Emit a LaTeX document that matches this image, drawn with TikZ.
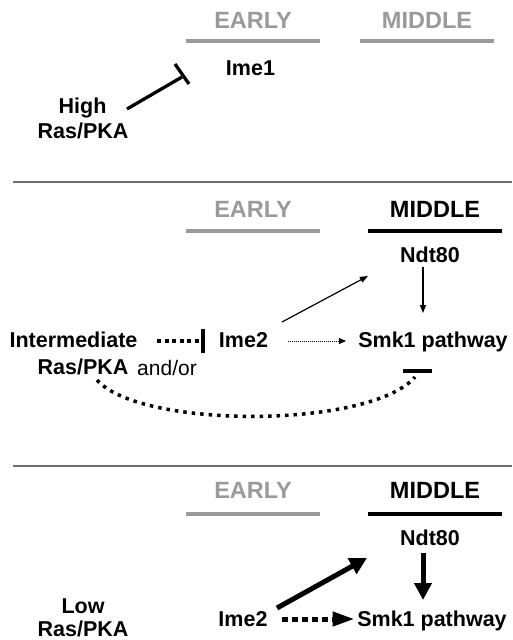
\documentclass[tikz,border=0pt]{standalone}
\usepackage{fontspec}
\setmainfont{Liberation Sans}
\usetikzlibrary{arrows.meta}
\definecolor{stagegrey}{HTML}{9A9A9A}
\definecolor{rulegrey}{HTML}{6E6E6E}
\tikzset{
  body/.style={font=\fontsize{21.5}{24}\selectfont\bfseries, inner sep=0pt, anchor=base},
  plain/.style={font=\fontsize{21}{24}\selectfont, inner sep=0pt, anchor=base},
  header/.style={font=\fontsize{23.5}{26}\selectfont\bfseries, inner sep=0pt, anchor=base},
  greyhead/.style={header, text=stagegrey},
  stagebar/.style={line width=3.5pt, stagegrey},
  activebar/.style={line width=3.5pt, black},
  separator/.style={line width=1.3pt, rulegrey},
  thinarrow/.style={line width=1.2pt, -{Triangle[length=8pt,width=6pt]}},
  thickarrow/.style={line width=5pt, -{Triangle[length=17pt,width=17pt]}},
  blockbar/.style={line width=4pt},
  dotline/.style={line width=4pt, dash pattern=on 4pt off 3.5pt},
  curvedots/.style={line width=3.5pt, dash pattern=on 3.5pt off 5pt},
  faintdots/.style={line width=1pt, dash pattern=on 1pt off 1pt},
  squaredash/.style={line width=5pt, dash pattern=on 6pt off 4pt},
}
\begin{document}
\begin{tikzpicture}[x=1pt, y=-1pt]
\useasboundingbox (0,0) rectangle (512,640);

% ---------- High Ras/PKA ----------
\node[greyhead] (e1) at (253,28) {EARLY};
\node[greyhead] (m1) at (427,28) {MIDDLE};
\draw[stagebar] (186,41) -- (320,41);
\draw[stagebar] (360,41) -- (494,41);
\node[body] (ime1) at (250.5,75) {Ime1};
\node[body] (high) at (82.5,113) {High};
\node[body] (rp1) at (83,138) {Ras/PKA};
\coordinate (t1s) at (127,109);
\coordinate (t1e) at (182,77);
\coordinate (t1a) at (175,64);
\coordinate (t1b) at (189,84);
\draw[line width=3.3pt] (t1s) -- (t1e);
\draw[line width=3.3pt] (t1a) -- (t1b);

\draw[separator] (13,182) -- (512,182);

% ---------- Intermediate Ras/PKA ----------
\node[greyhead] (e2) at (253,217) {EARLY};
\node[header] (m2) at (435,217) {MIDDLE};
\draw[stagebar] (186,231) -- (320,231);
\draw[activebar] (368,231) -- (502,231);
\node[body] (ndt2) at (430,262) {Ndt80};
\node[body] (inter) at (73.5,347) {Intermediate};
\node[body] (rp2) at (83,374) {Ras/PKA};
\node[plain] (andor) at (167,375) {and/or};
\node[body] (ime2b) at (243.5,347) {Ime2};
\node[body] (smk2) at (433,347) {Smk1 pathway};

\coordinate (d2s) at (157,341);
\coordinate (d2e) at (199,341);
\draw[dotline] (d2s) -- (d2e);
\draw[blockbar] (203,329) -- (203,353);

\coordinate (a2s) at (282,322);
\coordinate (a2e) at (368,276);
\draw[thinarrow] (a2s) -- (a2e);
\coordinate (n2s) at (423,267);
\coordinate (n2e) at (423,313);
\draw[thinarrow] (n2s) -- (n2e);
\coordinate (f2s) at (288,341);
\coordinate (f2e) at (346,341);
\draw[faintdots] (f2s) -- (340,341);
\draw[line width=1pt, -{Triangle[length=7pt,width=6pt]}] (339,341) -- (f2e);

\coordinate (c2s) at (97,380);
\coordinate (c2e) at (415,377);
\draw[curvedots] (c2s) .. controls (140,429) and (370,429) .. (c2e);
\draw[blockbar] (403,371) -- (432,371);

\draw[separator] (13,466) -- (512,466);

% ---------- Low Ras/PKA ----------
\node[greyhead] (e3) at (253,498) {EARLY};
\node[header] (m3) at (435,498) {MIDDLE};
\draw[stagebar] (186,514) -- (320,514);
\draw[activebar] (368,514) -- (502,514);
\node[body] (ndt3) at (430,545) {Ndt80};
\node[body] (low) at (83,613) {Low};
\node[body] (rp3) at (83,636) {Ras/PKA};
\node[body] (ime3) at (243,626) {Ime2};
\node[body] (smk3) at (432,626) {Smk1 pathway};

\coordinate (a3s) at (277,608);
\coordinate (a3e) at (367,558);
\draw[thickarrow] (a3s) -- (a3e);
\coordinate (n3s) at (423,553);
\coordinate (n3e) at (423,600);
\draw[thickarrow] (n3s) -- (n3e);
\coordinate (f3s) at (282,619);
\coordinate (f3e) at (352,619);
\draw[squaredash] (f3s) -- (334,619);
\draw[line width=1pt, fill=black] (f3e) -- (333,612) -- (333,626) -- cycle;
\end{tikzpicture}
\end{document}
